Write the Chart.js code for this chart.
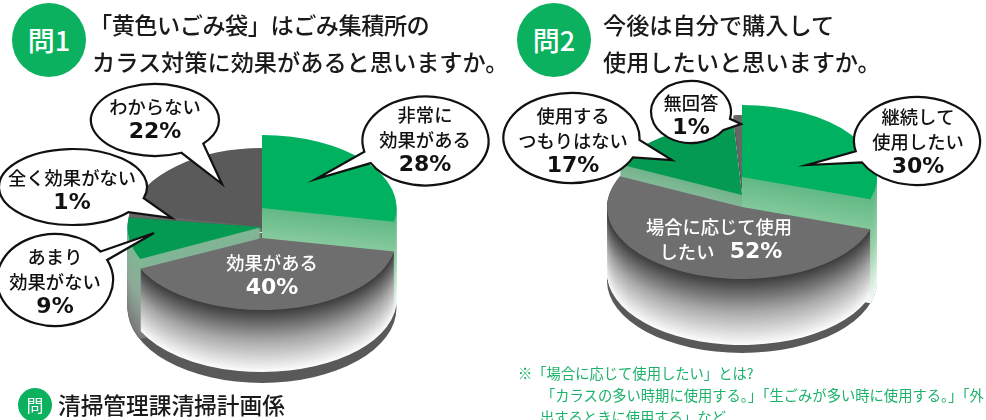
<!DOCTYPE html>
<html lang="ja">
<head>
<meta charset="utf-8">
<title>黄色いごみ袋</title>
<script src="https://cdn.jsdelivr.net/npm/chart.js@4"></script>
<style>
  html, body { margin: 0; padding: 0; background: #fff; }
  #page { position: relative; width: 986px; height: 420px; overflow: hidden; font-family: "Noto Sans CJK JP", sans-serif; color: #1a1a1a; }
  canvas { position: absolute; top: 0; }
  .badge { position: absolute; border-radius: 50%; background: #0bb15f; color: #fff; text-align: center; }
  .big { width: 74px; height: 74px; top: 3px; line-height: 74px; font-size: 27px; font-weight: 500; }
  .title { position: absolute; font-size: 23.2px; font-weight: 500; line-height: 1; white-space: nowrap; }
  .note { position: absolute; font-size: 14.3px; line-height: 1; white-space: nowrap; color: #1bb26a; }
</style>
</head>
<body>
<div id="page">
  <canvas id="pie1" width="500" height="420" style="left:0"></canvas>
  <canvas id="pie2" width="486" height="420" style="left:500px"></canvas>

  <div class="badge big" style="left:12px">問1</div>
  <div class="title" style="left:89px;top:13px;letter-spacing:-0.5px">「黄色いごみ袋」はごみ集積所の</div>
  <div class="title" style="left:92px;top:50px">カラス対策に効果があると思いますか。</div>

  <div class="badge big" style="left:517px">問2</div>
  <div class="title" style="left:603px;top:13px">今後は自分で購入して</div>
  <div class="title" style="left:603px;top:50px">使用したいと思いますか。</div>

  <div class="badge" style="left:18px;top:388px;width:34px;height:34px;line-height:34px;font-size:17px">問</div>
  <div class="title" style="left:58px;top:394px;font-size:22.7px">清掃管理課清掃計画係</div>

  <div class="note" style="left:518px;top:366px">※「場合に応じて使用したい」とは?</div>
  <div class="note" style="left:541px;top:388px">「カラスの多い時期に使用する。」「生ごみが多い時に使用する。」「外</div>
  <div class="note" style="left:540px;top:410px">出するときに使用する」など。</div>
</div>

<script>
const q1Labels = ['非常に\n効果がある', '効果がある', 'あまり\n効果がない', '全く効果がない', 'わからない'];
const q1Values = [28, 40, 9, 1, 22];
const q2Labels = ['継続して\n使用したい', '場合に応じて使用\nしたい', '使用する\nつもりはない', '無回答'];
const q2Values = [30, 52, 17, 1];

const JP_FONT = '500 18.3px "Noto Sans CJK JP", sans-serif';
const PCT_FONT = 'bold 22px "DejaVu Sans", sans-serif';
const GREEN = '#00b15f';
const DARK_GREEN = '#049a52';

const greenWall = ['#62b985', '#9ad3ab', '#f4faf6'];
const sideGreenWall = ['#7fb795', '#8fa998', '#7a7a7a'];
const grayWall = ['#3c3c3c', '#a8a8a8', '#fbfbfb'];
const hiddenWall = ['#555555', '#555555', '#555555'];

function lerpStops(stops, t) {
  const p = Math.min(t, 0.9999) * (stops.length - 1);
  const i = Math.floor(p);
  const a = parseInt(stops[i].slice(1), 16);
  const b = parseInt(stops[i + 1].slice(1), 16);
  const f = p - i;
  const ch = s => Math.round((a >> s & 255) * (1 - f) + (b >> s & 255) * f);
  return `rgb(${ch(16)},${ch(8)},${ch(0)})`;
}

// the outline takes the long way round, the tail fills the short gap
function drawBubble(ctx, b) {
  const ang = p => Math.atan2((p[1] - b.cy) / b.ry, (p[0] - b.cx) / b.rx);
  let from = ang(b.a1);
  let to = ang(b.a2);
  let span = (to - from + Math.PI * 2) % (Math.PI * 2);
  if (span < Math.PI) {
    [from, to] = [to, from];
    span = Math.PI * 2 - span;
  }
  ctx.beginPath();
  ctx.ellipse(b.cx, b.cy, b.rx, b.ry, 0, from, from + span);
  ctx.lineTo(b.tip[0], b.tip[1]);
  ctx.closePath();
  ctx.fillStyle = '#fff';
  ctx.fill();
  ctx.lineWidth = 2.2;
  ctx.lineJoin = 'miter';
  ctx.strokeStyle = '#111';
  ctx.stroke();
}

function drawText(ctx, x, y, lines, pct, color) {
  ctx.fillStyle = color;
  ctx.textAlign = 'center';
  ctx.textBaseline = 'middle';
  ctx.font = JP_FONT;
  lines.forEach((l, i) => ctx.fillText(l, x, y + i * 25));
  ctx.font = PCT_FONT;
  ctx.fillText(pct, x, y + lines.length * 25);
}

const pie3d = {
  id: 'pie3d',
  beforeDatasetsDraw(chart, args, o) {
    const ctx = chart.ctx;
    const arcs = chart.getDatasetMeta(0).data;

    ctx.fillStyle = '#595959';
    ctx.beginPath();
    ctx.ellipse(o.cx, o.baseY, arcs[0].outerRadius, o.baseRy, 0, 0, Math.PI * 2);
    ctx.fill();

    o.order.forEach(i => {
      const arc = arcs[i];
      const r = arc.outerRadius;
      const s = o.ry[i] / r;
      // extruded side, one pixel layer at a time from the bottom up
      for (let k = o.depth[i]; k >= 1; k--) {
        ctx.save();
        ctx.translate(o.cx, o.apex[i] + k);
        ctx.scale(1, s);
        ctx.beginPath();
        ctx.moveTo(0, 0);
        ctx.arc(0, 0, r, arc.startAngle, arc.endAngle);
        ctx.closePath();
        ctx.fillStyle = lerpStops(o.wall[i], k / o.depth[i]);
        ctx.fill();
        ctx.restore();
      }
      ctx.save();
      ctx.translate(o.cx, o.apex[i]);
      ctx.scale(1, s);
      ctx.translate(-arc.x, -arc.y);
      arc.draw(ctx);
      ctx.restore();
    });
    return false;
  },
  afterDraw(chart, args, o) {
    const ctx = chart.ctx;
    const labels = chart.data.labels;
    const values = chart.data.datasets[0].data;
    o.bubbles.forEach(b => {
      drawBubble(ctx, b);
      drawText(ctx, b.tx, b.ty, labels[b.i].split('\n'), values[b.i] + '%', '#111');
    });
    o.faceText(ctx, labels, values);
  }
};

function makePie(id, labels, values, colors, opts) {
  return new Chart(document.getElementById(id), {
    type: 'pie',
    data: { labels: labels, datasets: [{ data: values, backgroundColor: colors, borderWidth: 0 }] },
    options: {
      responsive: false,
      animation: false,
      radius: opts.radius,
      plugins: { legend: { display: false }, tooltip: { enabled: false }, pie3d: opts }
    },
    plugins: [pie3d]
  });
}

makePie('pie1', q1Labels, q1Values, [GREEN, '#6e6e6e', DARK_GREEN, '#666666', '#5a5a5a'], {
  radius: 134.5,
  cx: 262,
  baseY: 308,
  baseRy: 75,
  order: [4, 3, 2, 0, 1],
  apex: [208, 238, 227, 227, 227],
  ry: [73, 72, 75, 77, 79],
  depth: [92, 62, 80, 5, 5],
  wall: [greenWall, grayWall, sideGreenWall, hiddenWall, hiddenWall],
  bubbles: [
    { i: 0, cx: 425.5, cy: 141, rx: 63, ry: 44.5, tip: [316, 179], a1: [363, 152], a2: [371, 163], tx: 425, ty: 115 },
    { i: 4, cx: 155, cy: 120, rx: 64, ry: 36, tip: [222, 184], a1: [202, 143], a2: [180, 151], tx: 155, ty: 107 },
    { i: 3, cx: 73, cy: 187, rx: 74, ry: 38, tip: [172, 218], a1: [142, 198], a2: [130, 213], tx: 72, ty: 178 },
    { i: 2, cx: 55, cy: 280, rx: 58, ry: 46, tip: [154, 233], a1: [100, 252], a2: [107, 260], tx: 55, ty: 257 }
  ],
  faceText(ctx, labels, values) {
    drawText(ctx, 272, 263, [labels[1]], values[1] + '%', '#fff');
  }
});

makePie('pie2', q2Labels, q2Values, [GREEN, '#6e6e6e', DARK_GREEN, '#666666'], {
  radius: 135,
  cx: 242,
  baseY: 281,
  baseRy: 72,
  order: [3, 2, 0, 1],
  apex: [177, 207, 195, 187],
  ry: [72, 72, 72, 72],
  depth: [104, 66, 16, 5],
  wall: [greenWall, grayWall, ['#6fb38a', '#7db894', '#86bb9c'], hiddenWall],
  bubbles: [
    { i: 0, cx: 417, cy: 141, rx: 63, ry: 44, tip: [307, 165], a1: [357, 151], a2: [363, 162], tx: 418, ty: 117 },
    { i: 2, cx: 71.5, cy: 138, rx: 68, ry: 45, tip: [172, 160], a1: [139, 140], a2: [132, 157], tx: 73, ty: 116 },
    { i: 3, cx: 191, cy: 112, rx: 40, ry: 31, tip: [241, 124], a1: [231, 119], a2: [224, 130], tx: 191, ty: 103 }
  ],
  faceText(ctx, labels, values) {
    const lines = labels[1].split('\n');
    ctx.fillStyle = '#fff';
    ctx.textAlign = 'center';
    ctx.textBaseline = 'middle';
    ctx.font = JP_FONT;
    ctx.fillText(lines[0], 219, 227);
    ctx.fillText(lines[1], 187, 252);
    ctx.font = PCT_FONT;
    ctx.fillText(values[1] + '%', 256, 252);
  }
});
</script>
</body>
</html>
